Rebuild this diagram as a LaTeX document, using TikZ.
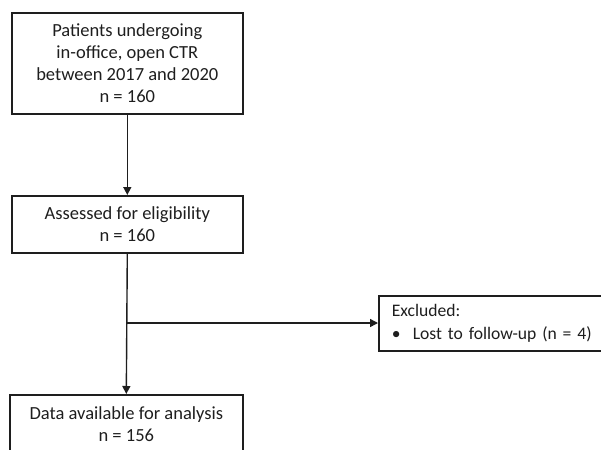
\documentclass[tikz,border=0pt]{standalone}
\usepackage{fontspec}
\setmainfont{Carlito}
\usetikzlibrary{arrows.meta}
\definecolor{ink}{HTML}{1E1E1E}
\begin{document}
\begin{tikzpicture}[x=1pt,y=-1pt,
  box/.style={draw=ink,line width=1.6pt,rectangle,inner sep=0pt,anchor=north west,
    font=\fontsize{18.5}{21.8}\selectfont,text=ink},
  conn/.style={draw=ink,line width=1.4pt},
  arr/.style={conn,-{Triangle[length=8pt,width=8pt]}}]
\useasboundingbox (0,0) rectangle (601,449);
\node[box,minimum width=231pt,minimum height=101pt,align=center] (b1) at (11,12)
  {Patients undergoing\\in-office, open CTR\\between 2017 and 2020\\n = 160};
\node[box,minimum width=231pt,minimum height=57pt,align=center] (b2) at (11,195)
  {Assessed for eligibility\\n = 160};
\node[box,minimum width=233pt,minimum height=58pt,align=center] (b4) at (9,394)
  {Data available for analysis\\n = 156};
\node[box,minimum width=240pt,minimum height=55pt,align=left,text width=226pt,inner xsep=13pt,
  font=\fontsize{17.6}{22.5}\selectfont] (b3) at (378,295)
  {Excluded:\\\makebox[21pt][l]{\textbullet}Lost to follow-up (n = 4)};
\coordinate (j) at (126.5,323);
\draw[arr] (b1.south) -- (b2.north);
\draw[arr] (b2.south) -- (b4.north);
\draw[arr] (j) -- (j -| b3.west);
\end{tikzpicture}
\end{document}
